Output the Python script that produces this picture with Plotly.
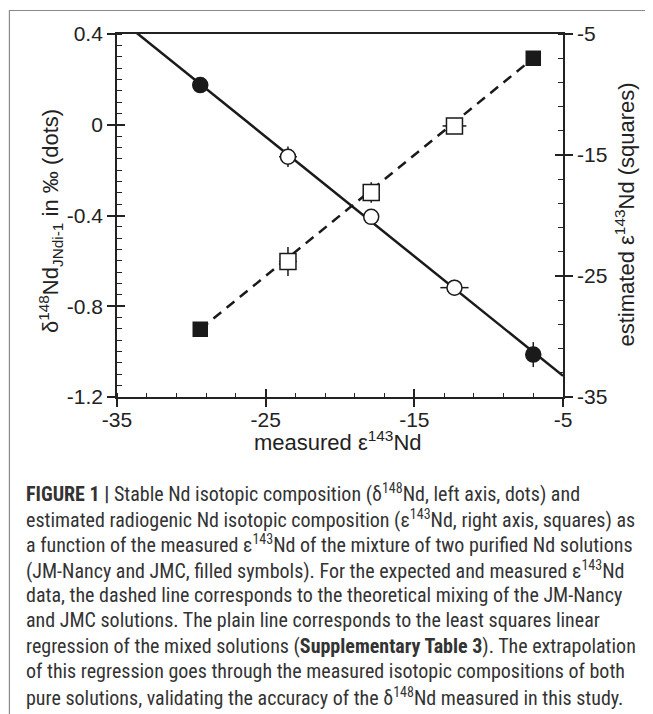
import numpy as np
import plotly.graph_objects as go

# ---- data ----
measured_eps = [-29.4, -23.5, -17.9, -12.3, -7.0]          # measured e143Nd (x)
delta148 = [0.175, -0.141, -0.406, -0.718, -1.013]          # left axis (dots)
delta148_err_y = [0.02, 0.045, 0.02, 0.035, 0.055]
delta148_err_x = [0.3, 0.6, 0.3, 0.95, 0.3]
est_eps = [-29.4, -23.8, -18.1, -12.6, -7.0]                # right axis (squares)
est_eps_err_y = [0.3, 1.2, 0.85, 0.3, 0.3]
est_eps_err_x = [0.3, 0.6, 0.3, 0.8, 0.3]
filled = [True, False, False, False, True]                  # pure solutions

x_ticks = [-35, -25, -15, -5]
x_ticktext = ["-35", "-25", "-15", "-5"]
yl_ticks = [0.4, 0.0, -0.4, -0.8, -1.2]
yl_ticktext = ["0.4", "0", "-0.4", "-0.8", "-1.2"]
yr_ticks = [-5, -15, -25, -35]
yr_ticktext = ["-5", "-15", "-25", "-35"]

caption_lines = [
    "<b>FIGURE 1 |</b> Stable Nd isotopic composition (\u03b4<sup>148</sup>Nd, left axis, dots) and",
    "estimated radiogenic Nd isotopic composition (\u03b5<sup>143</sup>Nd, right axis, squares) as",
    "a function of the measured \u03b5<sup>143</sup>Nd of the mixture of two purified Nd solutions",
    "(JM-Nancy and JMC, filled symbols). For the expected and measured \u03b5<sup>143</sup>Nd",
    "data, the dashed line corresponds to the theoretical mixing of the JM-Nancy",
    "and JMC solutions. The plain line corresponds to the least squares linear",
    "regression of the mixed solutions (<b>Supplementary Table 3</b>). The extrapolation",
    "of this regression goes through the measured isotopic compositions of both",
    "pure solutions, validating the accuracy of the \u03b4<sup>148</sup>Nd measured in this study.",
]

# ---- layout geometry (page pixels; the page body adds an 8px offset) ----
OFF = 8
W, H = 653 - OFF, 714 - OFF
PLOT_L, PLOT_R, PLOT_T, PLOT_B = 117, 562.7, 34, 396.7   # page coordinates
L = PLOT_L - OFF
T = PLOT_T - OFF
R = W - (PLOT_R - OFF)
B = H - (PLOT_B - OFF)
PW, PH = PLOT_R - PLOT_L, PLOT_B - PLOT_T

def px_x(px):
    return (px - PLOT_L) / PW

def px_y(py):
    return (PLOT_B - py) / PH

X_RANGE = [-35, -5]
YL_RANGE = [-1.2, 0.4]
YR_RANGE = [-35, -5]

INK = "#1a1a1a"
AX = "#222222"

fig = go.Figure()

# regression line (least squares through the dots), extended across the plot
slope, intercept = np.polyfit(measured_eps, delta148, 1)
xl = np.array(X_RANGE, dtype=float)
fig.add_trace(go.Scatter(x=xl, y=slope * xl + intercept, mode="lines",
                         line=dict(color=INK, width=2.5), xaxis="x", yaxis="y",
                         hoverinfo="skip", showlegend=False))

# dots
mx = np.array(measured_eps)
dl = np.array(delta148)
fill_mask = np.array(filled)
for mask, fc in [(fill_mask, INK), (~fill_mask, "white")]:
    fig.add_trace(go.Scatter(
        x=mx[mask], y=dl[mask], mode="markers", xaxis="x", yaxis="y",
        marker=dict(symbol="circle", size=15, color=fc, line=dict(color=INK, width=1.5)),
        error_y=dict(type="data", array=np.array(delta148_err_y)[mask], width=0,
                     thickness=1.5, color=INK),
        error_x=dict(type="data", array=np.array(delta148_err_x)[mask], width=0,
                     thickness=1.5, color=INK),
        showlegend=False))

# theoretical mixing line between the pure solutions (dashed)
ey = np.array(est_eps)
fig.add_trace(go.Scatter(x=[mx[0], mx[-1]], y=[ey[0], ey[-1]], mode="lines",
                         line=dict(color=INK, width=2.5, dash="10px,7px"),
                         xaxis="x", yaxis="y2", hoverinfo="skip", showlegend=False))

# squares
for mask, fc, sz in [(fill_mask, INK, 14), (~fill_mask, "white", 16)]:
    fig.add_trace(go.Scatter(
        x=mx[mask], y=ey[mask], mode="markers", xaxis="x", yaxis="y2",
        marker=dict(symbol="square", size=sz, color=fc, line=dict(color=INK, width=1.5)),
        error_y=dict(type="data", array=np.array(est_eps_err_y)[mask], width=0,
                     thickness=1.5, color=INK),
        error_x=dict(type="data", array=np.array(est_eps_err_x)[mask], width=0,
                     thickness=1.5, color=INK),
        showlegend=False))

# empty traces so that the overlay axes (inside halves of major ticks) are drawn
fig.add_trace(go.Scatter(x=[], y=[], xaxis="x2", yaxis="y3", showlegend=False))
fig.add_trace(go.Scatter(x=[], y=[], xaxis="x2", yaxis="y4", showlegend=False))

tickfont = dict(family="Liberation Sans, Arial, sans-serif", size=21, color=AX)

fig.update_layout(
    width=W, height=H,
    margin=dict(l=L, r=R, t=T, b=B, pad=0),
    paper_bgcolor="white", plot_bgcolor="white",
    showlegend=False,
    xaxis=dict(range=X_RANGE, tickmode="array", tickvals=x_ticks, ticktext=x_ticktext,
               ticks="outside", ticklen=8, tickwidth=1.5, tickcolor=AX,
               ticklabelstandoff=-5,
               showline=True, linecolor=AX, linewidth=1.8, mirror=True,
               showgrid=False, zeroline=False, tickfont=tickfont,
               minor=dict(tick0=-35, dtick=2, ticks="inside", ticklen=4,
                          tickwidth=1.3, tickcolor=AX, showgrid=False)),
    xaxis2=dict(range=X_RANGE, overlaying="x", anchor="y", side="bottom",
                tickmode="array", tickvals=x_ticks, ticks="inside", ticklen=8,
                tickwidth=1.5, tickcolor=AX, showticklabels=False, showline=False,
                showgrid=False, zeroline=False),
    yaxis=dict(range=YL_RANGE, tickmode="array", tickvals=yl_ticks, ticktext=yl_ticktext,
               ticks="outside", ticklen=8, tickwidth=1.5, tickcolor=AX,
               showline=True, linecolor=AX, linewidth=1.8,
               showgrid=False, zeroline=False, tickfont=tickfont,
               minor=dict(tick0=0.4, dtick=0.05, ticks="inside", ticklen=5,
                          tickwidth=1.3, tickcolor=AX, showgrid=False)),
    yaxis2=dict(range=YR_RANGE, overlaying="y", side="right", anchor="x",
                tickmode="array", tickvals=yr_ticks, ticktext=yr_ticktext,
                ticks="outside", ticklen=8, tickwidth=1.5, tickcolor=AX,
                showline=True, linecolor=AX, linewidth=1.8,
                showgrid=False, zeroline=False, tickfont=tickfont,
                minor=dict(tick0=-5, dtick=2, ticks="inside", ticklen=5,
                           tickwidth=1.3, tickcolor=AX, showgrid=False)),
    yaxis3=dict(range=YL_RANGE, overlaying="y", side="left", anchor="x",
                tickmode="array", tickvals=yl_ticks, ticks="inside", ticklen=8,
                tickwidth=1.5, tickcolor=AX, showticklabels=False, showline=False,
                showgrid=False, zeroline=False),
    yaxis4=dict(range=YR_RANGE, overlaying="y", side="right", anchor="x",
                tickmode="array", tickvals=yr_ticks, ticks="inside", ticklen=8,
                tickwidth=1.5, tickcolor=AX, showticklabels=False, showline=False,
                showgrid=False, zeroline=False),
)

titlefont = dict(family="Liberation Sans, Arial, sans-serif", size=22, color=AX)
annotations = [
    dict(text="measured \u03b5<sup>143</sup>Nd", x=px_x(338), y=px_y(441),
         xref="paper", yref="paper", xanchor="center", yanchor="middle",
         showarrow=False, font=titlefont),
    dict(text="\u03b4<sup>148</sup>Nd<sub>JNdi-1</sub> in \u2030 (dots)", x=px_x(50), y=px_y(221),
         xref="paper", yref="paper", xanchor="center", yanchor="middle",
         textangle=-90, showarrow=False, font=titlefont),
    dict(text="estimated \u03b5<sup>143</sup>Nd (squares)", x=px_x(625), y=px_y(214),
         xref="paper", yref="paper", xanchor="center", yanchor="middle",
         textangle=-90, showarrow=False, font=titlefont),
]
capfont = dict(family="Liberation Sans Narrow, Roboto Condensed, Liberation Sans, sans-serif",
               size=20, color="#333333")
for i, line in enumerate(caption_lines):
    annotations.append(dict(text=line, x=px_x(24), y=px_y(493 + 25.4 * i),
                            xref="paper", yref="paper", xanchor="left", yanchor="middle",
                            showarrow=False, font=capfont))
fig.update_layout(annotations=annotations)

# outer frame of the figure panel
fig.add_shape(type="rect", xref="paper", yref="paper",
              x0=px_x(9.5), x1=px_x(720), y0=px_y(780), y1=px_y(10.5),
              line=dict(color="#8a8a8a", width=1.2), fillcolor="rgba(0,0,0,0)", layer="above")

fig.write_html("out.html")
